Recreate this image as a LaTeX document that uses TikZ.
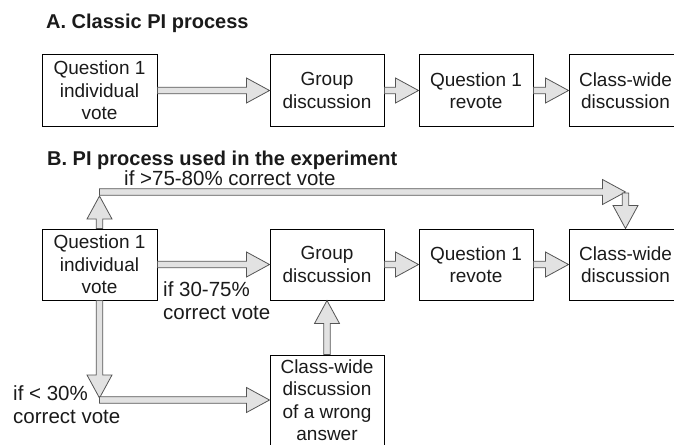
\documentclass[tikz,border=0pt]{standalone}
\usepackage{fontspec}
\setmainfont{Liberation Sans}
\usetikzlibrary{calc}
\definecolor{arrowfill}{HTML}{E2E2E2}
\definecolor{arrowline}{HTML}{555555}
\definecolor{txt}{HTML}{1A1A1A}
\tikzset{
  box/.style={draw=black, line width=1pt, minimum width=114pt, minimum height=71pt,
    inner sep=0pt, align=center, font=\fontsize{19}{22.5}\selectfont, text=txt},
  lbl/.style={inner sep=0pt, align=left, font=\fontsize{20.5}{23}\selectfont, text=txt},
  ttl/.style={inner sep=0pt, font=\fontsize{20}{24}\selectfont\bfseries, text=txt},
  flexarrow/.style={draw=arrowline, fill=arrowfill, line width=0.8pt, line join=miter}
}
\newcommand\flexto[2]{%
  \path[flexarrow] let \p1=#1, \p2=#2, \p3=($(\p2)!23pt!(\p1)$) in
    ($(\p1)!3.2pt!90:(\p2)$) -- ($(\p3)!3.2pt!-90:(\p1)$) -- ($(\p3)!12.5pt!-90:(\p1)$)
    -- (\p2) -- ($(\p3)!12.5pt!90:(\p1)$) -- ($(\p3)!3.2pt!90:(\p1)$)
    -- ($(\p1)!3.2pt!-90:(\p2)$) -- cycle;}
\begin{document}
\begin{tikzpicture}[x=1pt, y=-1pt]
\useasboundingbox (0,0) rectangle (674,444);
\clip (0,0) rectangle (674,444);

% Section A
\node[ttl, anchor=base west] (titleA) at (46,29) {A. Classic PI process};
\node[box, minimum width=115pt] (q1a) at (99.5,90.5) {Question 1\\individual\\vote};
\node[box] (grpa) at (327,90.5) {Group\\discussion};
\node[box] (reva) at (476,90.5) {Question 1\\revote};
\node[box, minimum width=113pt] (cwa) at (625.5,90.5) {Class-wide\\discussion};
\flexto{(q1a.east)}{(grpa.west)}
\flexto{(grpa.east)}{(reva.west)}
\flexto{(reva.east)}{(cwa.west)}

% Section B
\node[ttl, anchor=base west] (titleB) at (47,165) {B. PI process used in the experiment};
\node[lbl, anchor=base west] (lhigh) at (124,185) {if >75-80\% correct vote};
\node[box, minimum width=115pt] (q1b) at (99.5,264.5) {Question 1\\individual\\vote};
\node[box] (grpb) at (327,264.5) {Group\\discussion};
\node[box] (revb) at (476,264.5) {Question 1\\revote};
\node[box, minimum width=113pt] (cwb) at (625.5,264.5) {Class-wide\\discussion};
\node[box, minimum height=90pt] (wrong) at (327,400) {Class-wide\\discussion\\of a wrong\\answer};
\node[lbl, anchor=north west] (lmid) at (163,281) {if 30-75\%\\correct vote};
\node[lbl, anchor=north west] (llow) at (13,385) {if < 30\%\\correct vote};

\flexto{(q1b.east)}{(grpb.west)}
\flexto{(grpb.east)}{(revb.west)}
\flexto{(revb.east)}{(cwb.west)}

% top route
\coordinate (hy) at (0,192);
\coordinate (hstart) at (q1b.north |- hy);
\coordinate (upend) at ($(hstart)+(0,4)$);
\coordinate (hend) at (cwb.north |- hy);
\coordinate (dstart) at ($(hend)+(0,1)$);
\flexto{(q1b.north)}{(upend)}
\flexto{(hstart)}{(hend)}
\flexto{(dstart)}{(cwb.north)}

% low route
\coordinate (lstart) at (q1b.south |- wrong.west);
\coordinate (dnend) at ($(lstart)+(0,-2)$);
\flexto{(q1b.south)}{(dnend)}
\flexto{(lstart)}{(wrong.west)}
\flexto{(wrong.north)}{(grpb.south)}
\end{tikzpicture}
\end{document}
